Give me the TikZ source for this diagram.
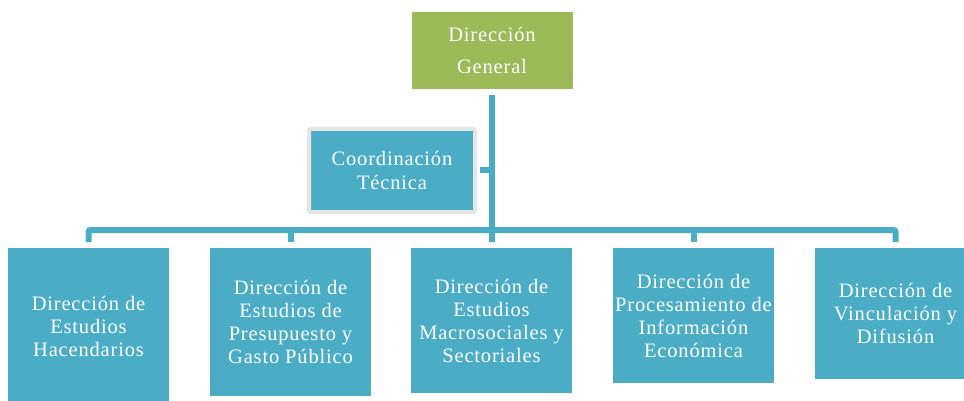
\documentclass[tikz,border=0pt]{standalone}
\usepackage{fontspec}
\setmainfont{Liberation Serif}[LetterSpace=4]
\definecolor{aqua}{HTML}{4BACC6}
\definecolor{olive}{HTML}{9BBB59}
\definecolor{frame}{HTML}{E6E6E6}
\tikzset{
  unit/.style={fill=aqua, text=white, minimum width=161pt, align=center,
    inner sep=0pt, font=\fontsize{20.5}{23}\selectfont, anchor=north},
  link/.style={draw=aqua, line width=6pt, rounded corners=2pt}
}
\begin{document}
\begin{tikzpicture}[x=1pt, y=-1pt]
        \useasboundingbox (0,0) rectangle (964,401);
        \clip (0,0) rectangle (964,401);
        % Head
        % Define the nodes
        \node[unit, fill=olive, minimum height=77pt, font=\fontsize{20.5}{32}\selectfont] (gen) at (492,12) {Dirección\\General};
        \node[unit, draw=frame, line width=4pt, minimum width=166pt, minimum height=83pt, rounded corners=1pt, font=\fontsize{20.5}{24}\selectfont] (coord) at (392,127) {Coordinación\\Técnica};
        \coordinate (bus) at (492,230);

        % Units
        % Define the nodes
        \node[unit, minimum height=156pt] (hac) at (88.5,248) {Dirección de\\Estudios\\Hacendarios};
        \node[unit, minimum height=148pt] (pre) at (290.5,248) {Dirección de\\Estudios de\\Presupuesto y\\Gasto Público};
        \node[unit, minimum height=145pt] (mac) at (491.5,248) {Dirección de\\Estudios\\Macrosociales y\\Sectoriales};
        \node[unit, minimum height=135pt] (pro) at (693.5,248) {Dirección de\\Procesamiento de\\Información\\Económica};
        \node[unit, minimum height=131pt] (vin) at (895.5,248) {Dirección de\\Vinculación y\\Difusión};

        % Connect the nodes
        \draw[link, shorten <=6pt] (gen.south) -- (bus);
        \draw[link, shorten <=3pt] (coord.east) -- (coord.east -| gen.south);
        \draw[link, shorten <=6pt, shorten >=6pt] (hac.north) |- (bus) -| (vin.north);
        \draw[link, shorten <=6pt] (pre.north) -- (pre.north |- bus);
        \draw[link, shorten <=6pt] (mac.north) -- (mac.north |- bus);
        \draw[link, shorten <=6pt] (pro.north) -- (pro.north |- bus);
    \end{tikzpicture}
\end{document}
